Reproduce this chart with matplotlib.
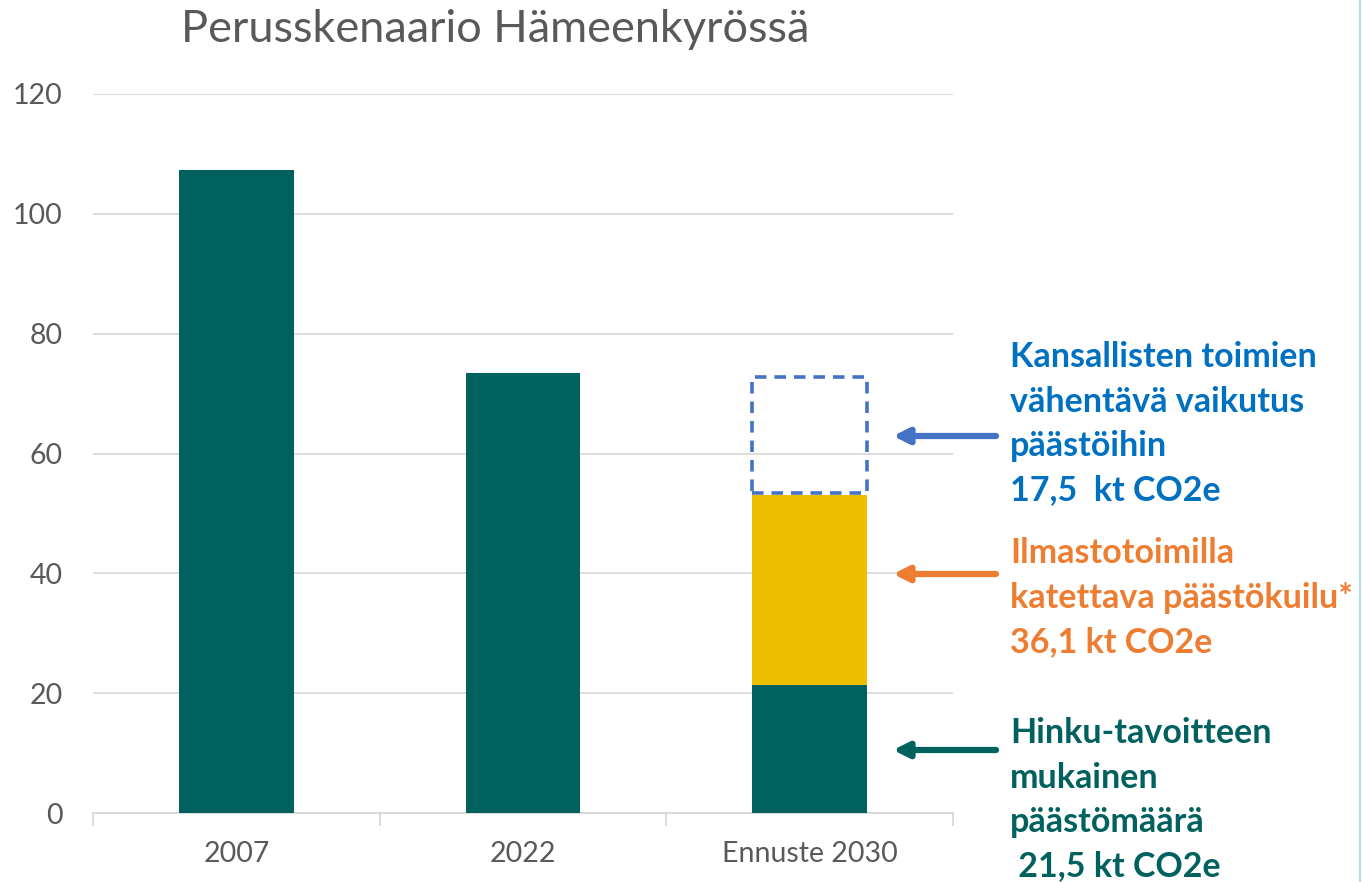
import matplotlib
matplotlib.use("Agg")
import matplotlib.pyplot as plt

categories = ["2007", "2022", "Ennuste 2030"]
base_values = [107.3, 73.4, 21.3]        # teal bars
gap_values = [0, 0, 31.7]                # yellow stacked part (2030)
national_bottom = [None, None, 53.4]     # dashed box
national_height = [None, None, 19.4]
yticks = [0, 20, 40, 60, 80, 100, 120]
title = "Perusskenaario Hämeenkyrössä"

blue_lines = ["Kansallisten toimien", "vähentävä vaikutus", "päästöihin", "17,5  kt CO2e"]
orange_lines = ["Ilmastotoimilla", "katettava päästökuilu*", "36,1 kt CO2e"]
teal_lines = ["Hinku-tavoitteen", "mukainen", "päästömäärä", " 21,5 kt CO2e"]

TEAL = "#00615E"
GOLD = "#EEBF00"
DASH = "#4472C4"
BLUE_TXT = "#0070C0"
ORANGE = "#ED7D31"
GRAY = "#595959"
GRID = "#D9D9D9"

plt.rcParams['font.family'] = ['Lato', 'DejaVu Sans']

W, H = 1363, 882
fig = plt.figure(figsize=(W / 100, H / 100), dpi=100)
ax = fig.add_axes([93 / W, 1 - 813 / H, (953 - 93) / W, (813 - 94) / H])

x = list(range(len(categories)))
bw = 0.40
ax.bar(x, base_values, width=bw, color=TEAL, zorder=3)
ax.bar(x, gap_values, width=bw, bottom=base_values, color=GOLD, zorder=3)
for i, (b, h) in enumerate(zip(national_bottom, national_height)):
    if b is not None:
        ax.bar(i, h, width=bw, bottom=b, fill=False, edgecolor=DASH,
               linestyle=(0, (3.2, 2.2)), linewidth=2.6, zorder=4)

ax.set_xlim(-0.5, 2.5)
ax.set_ylim(0, 120)
ax.set_yticks(yticks)
ax.yaxis.grid(True, color=GRID, linewidth=1.3, zorder=0)
ax.set_axisbelow(True)
for s in ["top", "right", "left"]:
    ax.spines[s].set_visible(False)
ax.spines["bottom"].set_color(GRID)
ax.spines["bottom"].set_linewidth(1.3)
ax.tick_params(axis="y", length=0, labelsize=20.5, labelcolor=GRAY, pad=22)
ax.set_xticks(x)
ax.set_xticklabels(categories)
ax.set_xticks([-0.5, 0.5, 1.5, 2.5], minor=True)
ax.tick_params(axis="x", which="major", length=0, labelsize=20.5, labelcolor=GRAY, pad=20)
ax.tick_params(axis="x", which="minor", length=9, width=1.3, color=GRID)

fig.text(495 / W, 1 - 30 / H, title, ha="center", va="center", fontsize=32.5, color=GRAY)

def block(lines, y0, color):
    for k, t in enumerate(lines):
        fig.text(1010 / W, 1 - (y0 + k * 44.5) / H, t, ha="left", va="center",
                 fontsize=24.5, fontweight="bold", color=color)

block(blue_lines, 357, BLUE_TXT)
block(orange_lines, 553, ORANGE)
block(teal_lines, 733, TEAL)

def arrow(ypix, color):
    ax.annotate("", xy=(893 / W, 1 - ypix / H), xycoords="figure fraction",
                xytext=(996 / W, 1 - ypix / H), textcoords="figure fraction",
                arrowprops=dict(arrowstyle="-|>,head_length=0.9,head_width=0.45",
                                color=color, lw=4.5, shrinkA=0, shrinkB=0),
                annotation_clip=False)

arrow(436, DASH)
arrow(574, ORANGE)
arrow(750, TEAL)

fig.add_artist(plt.Line2D([1360 / W, 1360 / W], [0, 1], color="#A8E3E8", lw=1.5))

fig.savefig("out.png", dpi=100, facecolor="white")
